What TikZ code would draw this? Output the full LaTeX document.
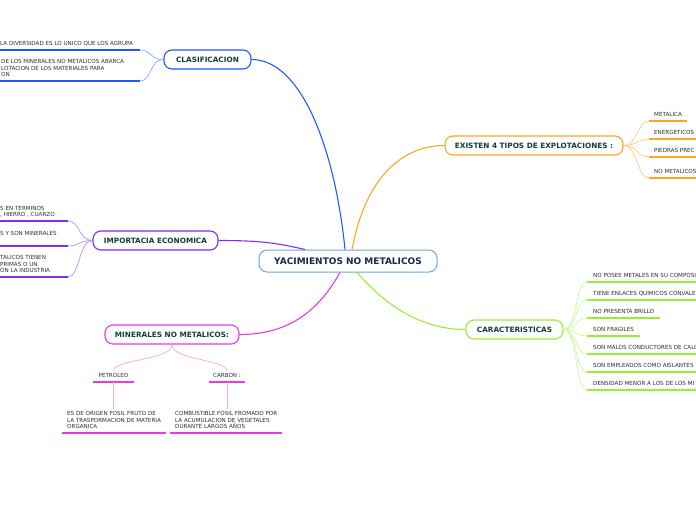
\documentclass[tikz,border=0pt]{standalone}
\usepackage{fontspec}
\setmainfont{DejaVu Sans}
\usetikzlibrary{positioning}

\definecolor{rootblue}{RGB}{110,165,215}
\definecolor{rootink}{RGB}{25,40,75}
\definecolor{topicink}{RGB}{15,65,50}
\definecolor{leafink}{RGB}{45,45,45}
\definecolor{clasblue}{RGB}{30,90,255}
\definecolor{clasblueLt}{RGB}{140,170,255}
\definecolor{impviolet}{RGB}{125,45,245}
\definecolor{impvioletLt}{RGB}{180,145,250}
\definecolor{minmag}{RGB}{235,55,235}
\definecolor{minmagLt}{RGB}{245,165,245}
\definecolor{exorange}{RGB}{255,165,30}
\definecolor{exorangeLt}{RGB}{255,205,130}
\definecolor{cargreen}{RGB}{150,240,50}
\definecolor{cargreenLt}{RGB}{200,250,150}

\begin{document}
\begin{tikzpicture}[
        x=1pt, y=-1pt,
        % central topic
        root/.style={
            rectangle,
            draw=rootblue,
            line width=1pt,
            fill=white,
            rounded corners=8pt,
            minimum width=178pt,
            minimum height=22pt,
            text=rootink,
            font=\fontsize{9}{10}\selectfont\bfseries
        },
        % main topics
        topic/.style={
            rectangle,
            line width=1.1pt,
            fill=white,
            rounded corners=8pt,
            minimum height=19pt,
            text=topicink,
            font=\fontsize{7.3}{8}\selectfont\bfseries
        },
        % underlined leaves
        leaf/.style={
            anchor=south west,
            align=left,
            inner xsep=6pt,
            inner ysep=2.4pt,
            text depth=1.6pt,
            text=leafink,
            font=\fontsize{5.6}{6.6}\selectfont
        },
        branch/.style={line width=1.1pt},
        twig/.style={line width=0.7pt},
        uline/.style={line width=1.8pt}
    ]

    \useasboundingbox (0,0) rectangle (696,520);
    \clip (0,0) rectangle (696,520);
    \coordinate (rim) at (696,0);

    % Central topic
    \node[root] (yac) at (348,261) {YACIMIENTOS NO METALICOS};

    % Main topics
    \node[topic, draw=clasblue, minimum width=87pt] (clas) at (207.5,59.5) {CLASIFICACION};
    \node[topic, draw=impviolet, minimum width=125pt] (imp) at (155.5,240.5) {IMPORTACIA ECONOMICA};
    \node[topic, draw=minmag, minimum width=134pt] (minr) at (172,334.5) {MINERALES NO METALICOS:};
    \node[topic, draw=exorange, minimum width=178pt] (exis) at (534,145.5) {EXISTEN 4 TIPOS DE EXPLOTACIONES :};
    \node[topic, draw=cargreen, minimum width=97pt] (car) at (514.5,329.5) {CARACTERISTICAS};

    % Main branches
    \draw[branch, clasblue] ([xshift=-3pt]yac.north) .. controls +(-10,-100) and +(50,0) .. (clas.east);
    \draw[branch, impviolet] ([xshift=-43pt]yac.north) .. controls +(-30,-7) and +(40,0) .. (imp.east);
    \draw[branch, minmag] ([xshift=-8pt]yac.south) .. controls +(-18,32) and +(55,0) .. (minr.east);
    \draw[branch, exorange] ([xshift=4pt]yac.north) .. controls +(14,-75) and +(-40,0) .. (exis.west);
    \draw[branch, cargreen] ([xshift=9pt]yac.south) .. controls +(28,32) and +(-45,0) .. (car.west);

    % CLASIFICACION leaves
    \coordinate (cl1) at (140,50);
    \coordinate (cl2) at (140,81);
    \node[leaf] (clt1) at (-6,50) {LA DIVERSIDAD ES LO UNICO QUE LOS AGRUPA};
    \node[leaf] (clt2) at (-5,81) {DE LOS MINERALES NO METALICOS ABARCA\\LOTACION DE LOS MATERIALES PARA\\ON};
    \draw[twig, clasblueLt] (clas.west) .. controls +(-14,0) and +(12,0) .. (cl1);
    \draw[twig, clasblueLt] (clas.west) .. controls +(-14,0) and +(12,0) .. (cl2);
    \draw[uline, clasblue] (cl1) -- (clt1.south west);
    \draw[uline, clasblue] (cl2) -- (clt2.south west);

    % IMPORTACIA ECONOMICA leaves
    \coordinate (im1) at (68,221);
    \coordinate (im2) at (68,246);
    \coordinate (im3) at (68,277);
    \node[leaf] (imt1) at (-6,221) {S EN TERMINOS\\, HIERRO , CUARZO};
    \node[leaf] (imt2) at (-6,246) {S Y SON MINERALES\\\mbox{}};
    \node[leaf] (imt3) at (-6,277) {TALICOS TIENEN\\PRIMAS O UN\\ON LA INDUSTRIA};
    \draw[twig, impvioletLt] (imp.west) .. controls +(-14,0) and +(12,0) .. (im1);
    \draw[twig, impvioletLt] (imp.west) .. controls +(-14,0) and +(12,0) .. (im2);
    \draw[twig, impvioletLt] (imp.west) .. controls +(-14,0) and +(12,0) .. (im3);
    \draw[uline, impviolet] (im1) -- (imt1.south west);
    \draw[uline, impviolet] (im2) -- (imt2.south west);
    \draw[uline, impviolet] (im3) -- (imt3.south west);

    % MINERALES NO METALICOS children
    \node[leaf, anchor=south, inner xsep=5pt] (petr) at (113.5,382) {PETROLEO};
    \node[leaf, anchor=south, inner xsep=4pt] (carb) at (227,382) {CARBON :};
    \draw[twig, minmagLt] (minr.south) .. controls +(0,16) and +(0,-12) .. (petr.north);
    \draw[twig, minmagLt] (minr.south) .. controls +(0,16) and +(0,-12) .. (carb.north);
    \draw[uline, minmag] (petr.south west) -- (petr.south east);
    \draw[uline, minmag] (carb.south west) -- (carb.south east);

    \node[leaf, inner xsep=5pt] (petd) at (62,433) {ES DE ORIGEN FOSIL FRUTO DE\\LA TRASPORMACION DE MATERIA\\ORGANICA};
    \node[leaf, inner xsep=5pt] (carbd) at (170,433) {COMBUSTIBLE FOSIL FROMADO POR\\LA ACUMULACION DE VEGETALES\\DURANTE LARGOS AÑOS};
    \draw[twig, minmagLt] (petr.south) -- (petr.south |- petd.north);
    \draw[twig, minmagLt] (carb.south) -- (carb.south |- carbd.north);
    \draw[uline, minmag] (petd.south west) -- (petd.south east);
    \draw[uline, minmag] (carbd.south west) -- (carbd.south east);

    % EXISTEN 4 TIPOS leaves
    \node[leaf, inner xsep=5pt] (ex1) at (649,121) {METALICA};
    \node[leaf, inner xsep=5pt] (ex2) at (649,139) {ENERGETICOS};
    \node[leaf, inner xsep=5pt] (ex3) at (649,157) {PIEDRAS PREC};
    \node[leaf, inner xsep=5pt] (ex4) at (649,178) {NO METALICOS};
    \draw[twig, exorangeLt] (exis.east) .. controls +(14,0) and +(-12,0) .. (ex1.south west);
    \draw[twig, exorangeLt] (exis.east) .. controls +(14,0) and +(-12,0) .. (ex2.south west);
    \draw[twig, exorangeLt] (exis.east) .. controls +(14,0) and +(-12,0) .. (ex3.south west);
    \draw[twig, exorangeLt] (exis.east) .. controls +(14,0) and +(-12,0) .. (ex4.south west);
    \draw[uline, exorange] (ex1.south west) -- (ex1.south east);
    \draw[uline, exorange] (ex2.south west) -- (ex2.south west -| rim);
    \draw[uline, exorange] (ex3.south west) -- (ex3.south west -| rim);
    \draw[uline, exorange] (ex4.south west) -- (ex4.south west -| rim);

    % CARACTERISTICAS leaves
    \node[leaf] (ca1) at (587,282) {NO POSEE METALES EN SU COMPOSI};
    \node[leaf] (ca2) at (587,300) {TIENE ENLACES QUIMICOS CONVALE};
    \node[leaf] (ca3) at (587,318) {NO PRESENTA BRILLO};
    \node[leaf] (ca4) at (587,336) {SON FRAGILES};
    \node[leaf] (ca5) at (587,354) {SON MALOS CONDUCTORES DE CALO};
    \node[leaf] (ca6) at (587,372) {SON EMPLEADOS COMO AISLANTES};
    \node[leaf] (ca7) at (587,390) {DENSIDAD MENOR A LOS DE LOS MI};
    \draw[twig, cargreenLt] (car.east) .. controls +(14,0) and +(-12,0) .. (ca1.south west);
    \draw[twig, cargreenLt] (car.east) .. controls +(14,0) and +(-12,0) .. (ca2.south west);
    \draw[twig, cargreenLt] (car.east) .. controls +(14,0) and +(-12,0) .. (ca3.south west);
    \draw[twig, cargreenLt] (car.east) .. controls +(14,0) and +(-12,0) .. (ca4.south west);
    \draw[twig, cargreenLt] (car.east) .. controls +(14,0) and +(-12,0) .. (ca5.south west);
    \draw[twig, cargreenLt] (car.east) .. controls +(14,0) and +(-12,0) .. (ca6.south west);
    \draw[twig, cargreenLt] (car.east) .. controls +(14,0) and +(-12,0) .. (ca7.south west);
    \draw[uline, cargreen] (ca1.south west) -- (ca1.south west -| rim);
    \draw[uline, cargreen] (ca2.south west) -- (ca2.south west -| rim);
    \draw[uline, cargreen] (ca3.south west) -- (ca3.south east);
    \draw[uline, cargreen] (ca4.south west) -- (ca4.south east);
    \draw[uline, cargreen] (ca5.south west) -- (ca5.south west -| rim);
    \draw[uline, cargreen] (ca6.south west) -- (ca6.south west -| rim);
    \draw[uline, cargreen] (ca7.south west) -- (ca7.south west -| rim);

\end{tikzpicture}
\end{document}
